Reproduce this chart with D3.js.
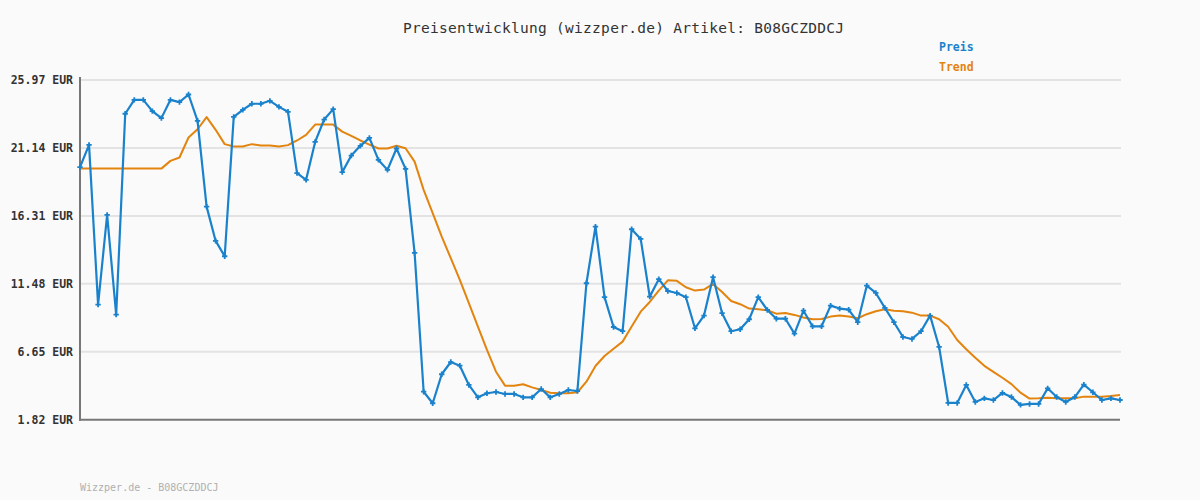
<!DOCTYPE html>
<html>
<head>
<meta charset="utf-8">
<script src="https://cdn.jsdelivr.net/npm/d3@7"></script>
<style>
  html, body { margin: 0; padding: 0; background: #fafafa; }
  svg { display: block; }
</style>
</head>
<body>
<svg id="chart" width="1200" height="500"></svg>
<script>
const titleText = "Preisentwicklung (wizzper.de) Artikel: B08GCZDDCJ";
const footerText = "Wizzper.de - B08GCZDDCJ";
const seriesNames = ["Preis", "Trend"];
const tickValues = [1.82, 6.65, 11.48, 16.31, 21.14, 25.97];
const tickLabels = ["1.82 EUR", "6.65 EUR", "11.48 EUR", "16.31 EUR", "21.14 EUR", "25.97 EUR"];

const preis = [
  19.77, 21.36, 10.00, 16.38, 9.29, 23.57, 24.56, 24.56, 23.76, 23.26,
  24.56, 24.40, 24.94, 23.07, 16.97, 14.53, 13.44, 23.35, 23.85, 24.28,
  24.28, 24.49, 24.06, 23.71, 19.35, 18.87, 21.57, 23.16, 23.90, 19.42,
  20.60, 21.29, 21.86, 20.29, 19.58, 21.10, 19.65, 13.68, 3.81, 2.99,
  5.05, 5.92, 5.66, 4.29, 3.41, 3.70, 3.79, 3.65, 3.65, 3.41,
  3.41, 4.00, 3.41, 3.65, 3.93, 3.86, 11.52, 15.55, 10.53, 8.41,
  8.11, 15.36, 14.67, 10.57, 11.81, 10.97, 10.83, 10.53, 8.32, 9.22,
  11.95, 9.39, 8.11, 8.25, 8.96, 10.53, 9.62, 9.00, 9.00, 7.94,
  9.57, 8.46, 8.46, 9.93, 9.72, 9.64, 8.75, 11.35, 10.83, 9.77,
  8.75, 7.70, 7.56, 8.11, 9.22, 6.99, 3.01, 3.01, 4.29, 3.08,
  3.34, 3.22, 3.72, 3.43, 2.87, 2.94, 2.94, 4.05, 3.43, 3.08,
  3.43, 4.31, 3.77, 3.22, 3.34, 3.22
];

const trend = [
  19.67, 19.67, 19.67, 19.67, 19.67, 19.67, 19.67, 19.67, 19.67, 19.67,
  20.22, 20.46, 21.88, 22.47, 23.33, 22.43, 21.41, 21.24, 21.24, 21.41,
  21.31, 21.31, 21.24, 21.34, 21.67, 22.07, 22.80, 22.80, 22.80, 22.30,
  22.00, 21.67, 21.38, 21.10, 21.10, 21.29, 21.12, 20.17, 18.16, 16.50,
  14.84, 13.30, 11.76, 10.10, 8.44, 6.78, 5.23, 4.24, 4.24, 4.34,
  4.12, 3.93, 3.74, 3.70, 3.70, 3.77, 4.52, 5.64, 6.35, 6.87,
  7.37, 8.44, 9.50, 10.19, 11.00, 11.73, 11.69, 11.24, 11.00, 11.07,
  11.47, 10.90, 10.26, 10.03, 9.72, 9.67, 9.60, 9.36, 9.41, 9.27,
  9.08, 8.96, 8.98, 9.15, 9.22, 9.15, 9.03, 9.32, 9.53, 9.67,
  9.57, 9.53, 9.43, 9.22, 9.22, 8.96, 8.43, 7.49, 6.83, 6.22,
  5.65, 5.22, 4.80, 4.35, 3.74, 3.32, 3.34, 3.38, 3.34, 3.34,
  3.34, 3.46, 3.46, 3.46, 3.51, 3.58
];

const colors = { preis: "#1a82cc", trend: "#e3840f" };

const svg = d3.select("#chart");
const plotLeft = 80, plotRight = 1120, plotTop = 80, plotBottom = 419.7;

const x = d3.scaleLinear().domain([0, preis.length - 1]).range([plotLeft, plotRight]);
const y = d3.scaleLinear().domain([1.82, 25.97]).range([plotBottom, plotTop]);

// gridlines
svg.append("g")
  .selectAll("line")
  .data(tickValues.slice(1))
  .join("line")
  .attr("x1", plotLeft).attr("x2", plotRight + 1)
  .attr("y1", d => y(d)).attr("y2", d => y(d))
  .attr("stroke", "#e3e3e3").attr("stroke-width", 2);

// y axis labels
const yAxis = d3.axisLeft(y)
  .tickValues(tickValues)
  .tickSize(0)
  .tickPadding(7)
  .tickFormat((d, i) => tickLabels[i]);
const gy = svg.append("g").attr("transform", `translate(${plotLeft},0)`).call(yAxis);
gy.select(".domain").remove();
gy.selectAll("text")
  .attr("font-family", "'DejaVu Sans Mono', monospace")
  .attr("font-weight", "bold")
  .attr("font-size", "11.5px")
  .attr("fill", "#333");

// axis lines
svg.append("line")
  .attr("x1", plotLeft).attr("x2", plotLeft)
  .attr("y1", plotTop - 3).attr("y2", plotBottom + 1)
  .attr("stroke", "#777").attr("stroke-width", 2);
svg.append("line")
  .attr("x1", plotLeft - 1).attr("x2", plotRight)
  .attr("y1", plotBottom).attr("y2", plotBottom)
  .attr("stroke", "#777").attr("stroke-width", 2);

// trend line
const line = d3.line().x((d, i) => x(i)).y(d => y(d));
svg.append("path")
  .datum(trend)
  .attr("d", line)
  .attr("fill", "none")
  .attr("stroke", colors.trend)
  .attr("stroke-width", 2)
  .attr("stroke-linejoin", "round");

// price line
svg.append("path")
  .datum(preis)
  .attr("d", line)
  .attr("fill", "none")
  .attr("stroke", colors.preis)
  .attr("stroke-width", 2.2)
  .attr("stroke-linejoin", "round");

// markers
svg.append("g")
  .selectAll("path")
  .data(preis)
  .join("path")
  .attr("transform", (d, i) => `translate(${x(i)},${y(d)})`)
  .attr("d", d3.symbol(d3.symbolCross, 16))
  .attr("fill", colors.preis);

// title
svg.append("text")
  .attr("x", 403).attr("y", 33)
  .attr("font-family", "'DejaVu Sans Mono', monospace")
  .attr("font-size", "14.5px")
  .attr("fill", "#333")
  .attr("textLength", 441)
  .attr("lengthAdjust", "spacing")
  .text(titleText);

// legend
svg.append("g")
  .selectAll("text")
  .data(seriesNames)
  .join("text")
  .attr("x", 939)
  .attr("y", (d, i) => 51 + i * 20)
  .attr("font-family", "'DejaVu Sans Mono', monospace")
  .attr("font-weight", "bold")
  .attr("font-size", "11.5px")
  .attr("fill", (d, i) => i === 0 ? colors.preis : colors.trend)
  .text(d => d);

// footer
svg.append("text")
  .attr("x", 80).attr("y", 491)
  .attr("font-family", "'DejaVu Sans Mono', monospace")
  .attr("font-size", "10px")
  .attr("fill", "#b0b0b0")
  .text(footerText);
</script>
</body>
</html>
